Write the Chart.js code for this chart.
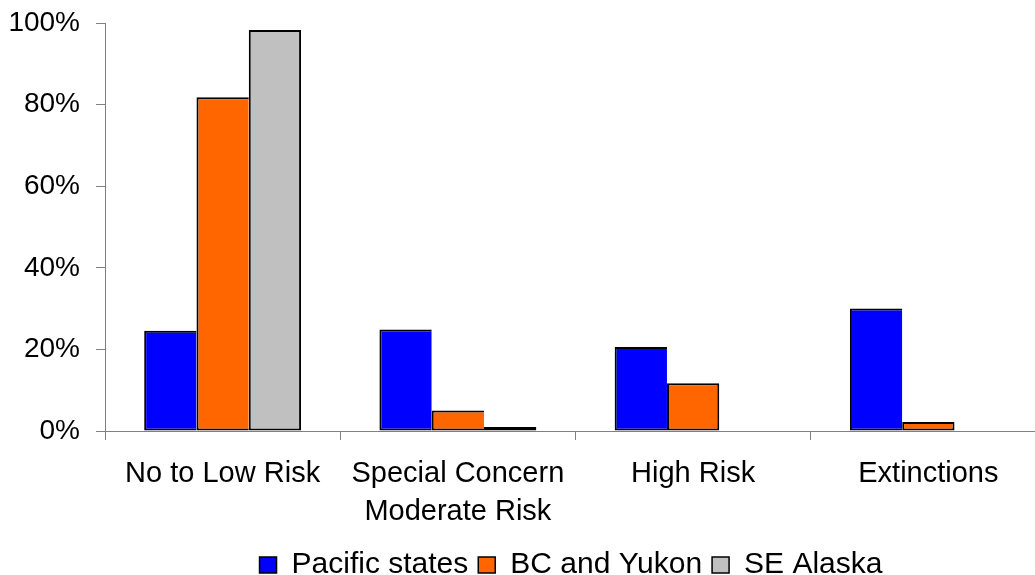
<!DOCTYPE html>
<html><head><meta charset="utf-8">
<script src="https://cdn.jsdelivr.net/npm/chart.js"></script>
<style>
html,body{margin:0;padding:0;overflow:hidden;background:#fff;width:1035px;height:575px}
#wrap{position:absolute;left:0;top:0;width:1142px;height:575px}
</style>
</head><body><div id="wrap"><canvas id="c"></canvas></div>
<script>
const categories = ['No to Low Risk', ['Special Concern', 'Moderate Risk'], 'High Risk', 'Extinctions'];
const seriesNames = ['Pacific states', 'BC and Yukon', 'SE Alaska'];
const pacificStates = [24.6, 24.9, 20.6, 30.0];
const bcAndYukon = [81.8, 5.0, 11.7, 2.2];
const seAlaska = [98.3, 1.0, null, null];
const yTickValues = [0, 20, 40, 60, 80, 100];
const colors = ['#0000FF', '#FF6600', '#C0C0C0'];

const FONT = '"Liberation Sans", Arial, sans-serif';
function borderFor(ctx) {
  const dsets = ctx.chart.data.datasets;
  const next = dsets[ctx.datasetIndex + 1];
  const hasNext = next && next.data[ctx.dataIndex] != null;
  return {top: 2, bottom: 2, left: 2, right: hasNext ? 0 : 2};
}
function ds(label, data, color) {
  return {label, data, backgroundColor: color, borderColor: '#000', borderWidth: borderFor,
    borderSkipped: false, barPercentage: 1, categoryPercentage: 0.667};
}
function noPad(s) { s.paddingTop = 0; s.paddingBottom = 0; }
new Chart(document.getElementById('c'), {
  type: 'bar',
  data: {
    labels: categories,
    datasets: [
      ds(seriesNames[0], pacificStates, colors[0]),
      ds(seriesNames[1], bcAndYukon, colors[1]),
      ds(seriesNames[2], seAlaska, colors[2])
    ]
  },
  options: {
    responsive: true, maintainAspectRatio: false, animation: false, devicePixelRatio: 1,
    layout: {padding: {top: 23, left: 0, right: 0, bottom: -15}},
    plugins: {
      tooltip: {enabled: false},
      legend: {
        position: 'bottom',
        labels: {
          font: {family: FONT, size: 30}, color: '#000', boxWidth: 17, boxHeight: 16, padding: 10,
          generateLabels: chart => chart.data.datasets.map((d, i) => ({
            text: d.label, fillStyle: d.backgroundColor, strokeStyle: '#000', lineWidth: 1.5,
            hidden: false, datasetIndex: i
          }))
        }
      }
    },
    scales: {
      x: {
        grid: {offset: true, drawOnChartArea: false, drawTicks: true, tickLength: 9, color: '#808080', lineWidth: 1},
        border: {display: true, color: '#808080', width: 1},
        ticks: {font: {family: FONT, size: 29, lineHeight: 1.32}, color: '#000', padding: 15, maxRotation: 0, autoSkip: false},
        afterFit: s => { s.height = 109; }
      },
      y: {
        min: 0, max: 100,
        afterBuildTicks: s => { s.ticks = yTickValues.map(v => ({value: v})); },
        ticks: {callback: v => v + '%', font: {family: FONT, size: 28}, color: '#000', padding: 16},
        grid: {drawOnChartArea: false, drawTicks: true, tickLength: 9, color: '#808080', lineWidth: 1},
        border: {display: true, color: '#808080', width: 1},
        afterFit: s => { s.width = 105; noPad(s); }
      },
      yRight: {
        type: 'linear', position: 'right', display: true,
        grid: {display: false}, ticks: {display: false}, border: {display: false},
        afterFit: s => { s.width = 96; noPad(s); }
      }
    }
  }
});
</script>
</body></html>
